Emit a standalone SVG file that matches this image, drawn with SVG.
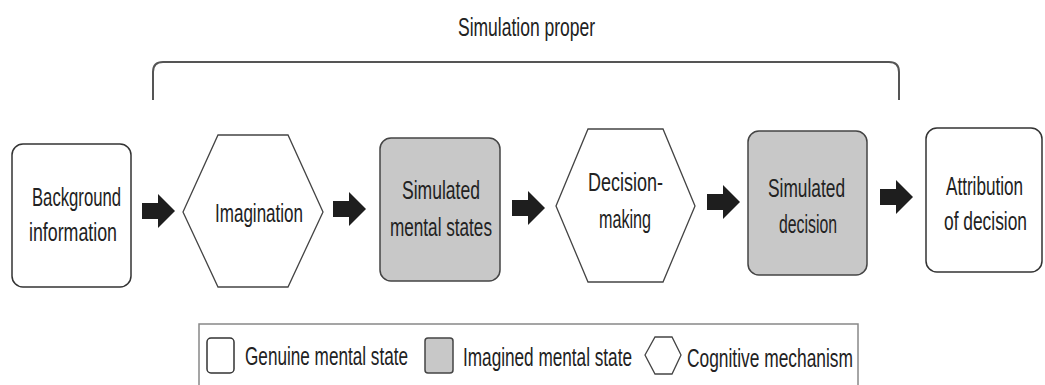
<svg xmlns="http://www.w3.org/2000/svg" width="1045" height="385" viewBox="0 0 1045 385">
<style>
  .t { font-family: "Liberation Sans", Arial, sans-serif; font-size: 26.5px; fill: #222; text-anchor: start; }
  .box { fill: #fff; stroke: #333; stroke-width: 1.5; }
  .img { fill: #c8c8c8; stroke: #444; stroke-width: 1.5; }
  .hex { fill: #fff; stroke: #444; stroke-width: 1.3; }
  .arr { fill: #1e1e1e; }
</style>
<defs>
  <path id="arrow" d="M0,-8 L16,-8 L16,-17 L33,0 L16,17 L16,8 L0,8 Z"/>
</defs>
<rect width="1045" height="385" fill="#fff"/>

<g id="bracket">
  <path d="M153,100 L153,72 Q153,62 163,62 L889,62 Q899,62 899,72 L899,100" fill="none" stroke="#555" stroke-width="2"/>
  <text class="t" transform="translate(458,36) scale(0.65,1)" textLength="210.8" lengthAdjust="spacingAndGlyphs">Simulation proper</text>
</g>

<g id="connectors" class="arr">
  <use href="#arrow" x="142" y="211"/>
  <use href="#arrow" x="333" y="209"/>
  <use href="#arrow" x="512" y="208"/>
  <use href="#arrow" x="707" y="202"/>
  <use href="#arrow" x="880" y="197"/>
</g>

<g id="background">
  <rect class="box" x="12" y="144" width="119" height="143" rx="11"/>
  <text class="t" transform="translate(32,206) scale(0.65,1)" textLength="136.9" lengthAdjust="spacingAndGlyphs">Background</text>
  <text class="t" transform="translate(29,241) scale(0.65,1)" textLength="135.4" lengthAdjust="spacingAndGlyphs">information</text>
</g>

<g id="imagination">
  <polygon class="hex" points="183,212 218,135 288,135 323,212 288,287 218,287"/>
  <text class="t" transform="translate(215,222) scale(0.65,1)" textLength="135.4" lengthAdjust="spacingAndGlyphs">Imagination</text>
</g>

<g id="simulated-mental-states">
  <rect class="img" x="380" y="138" width="120" height="143" rx="11"/>
  <text class="t" transform="translate(402,199) scale(0.65,1)" textLength="120" lengthAdjust="spacingAndGlyphs">Simulated</text>
  <text class="t" transform="translate(390,236) scale(0.65,1)" textLength="156.9" lengthAdjust="spacingAndGlyphs">mental states</text>
</g>

<g id="decision-making">
  <polygon class="hex" points="556,206 588,129 663,129 695,206 663,282 588,282"/>
  <text class="t" transform="translate(588,191) scale(0.65,1)" textLength="115.4" lengthAdjust="spacingAndGlyphs">Decision-</text>
  <text class="t" transform="translate(599,228) scale(0.65,1)" textLength="80" lengthAdjust="spacingAndGlyphs">making</text>
</g>

<g id="simulated-decision">
  <rect class="img" x="748" y="131" width="119" height="144" rx="11"/>
  <text class="t" transform="translate(768,197) scale(0.65,1)" textLength="118.5" lengthAdjust="spacingAndGlyphs">Simulated</text>
  <text class="t" transform="translate(779,233) scale(0.65,1)" textLength="89.2" lengthAdjust="spacingAndGlyphs">decision</text>
</g>

<g id="attribution">
  <rect class="box" x="926" y="128" width="116" height="144" rx="11"/>
  <text class="t" transform="translate(946,195) scale(0.65,1)" textLength="118.5" lengthAdjust="spacingAndGlyphs">Attribution</text>
  <text class="t" transform="translate(944,230) scale(0.65,1)" textLength="127.7" lengthAdjust="spacingAndGlyphs">of decision</text>
</g>

<g id="legend">
  <rect x="199" y="324" width="659" height="70" fill="#fff" stroke="#888" stroke-width="1.5"/>
  <rect class="box" x="207" y="338" width="27" height="35" rx="4"/>
  <text class="t" transform="translate(245,365) scale(0.65,1)" textLength="250.8" lengthAdjust="spacingAndGlyphs">Genuine mental state</text>
  <rect class="img" x="425" y="338" width="28" height="35" rx="3"/>
  <text class="t" transform="translate(463,366) scale(0.65,1)" textLength="260" lengthAdjust="spacingAndGlyphs">Imagined mental state</text>
  <polygon class="hex" points="645,355 655,337 672,337 681,355 672,374 655,374"/>
  <text class="t" transform="translate(687,367) scale(0.65,1)" textLength="255.4" lengthAdjust="spacingAndGlyphs">Cognitive mechanism</text>
</g>
</svg>
